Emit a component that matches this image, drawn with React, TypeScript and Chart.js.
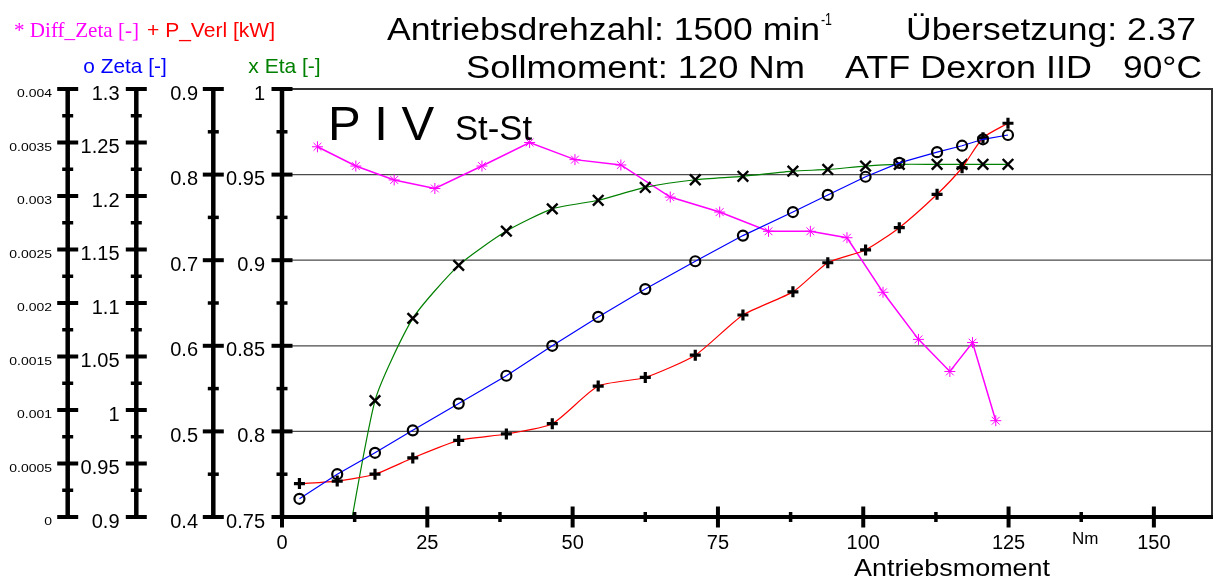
import React, { useEffect, useRef } from "react";
import { Chart, registerables } from "chart.js";

Chart.register(...registerables);

// ---------- data ----------
const torque = [3.0, 9.5, 16.0, 22.5, 30.4, 38.6, 46.5, 54.4, 62.5, 71.1, 79.3, 87.9, 93.9, 100.4, 106.2, 112.7, 117.0, 120.6, 124.9];
const zeta = [0.917, 0.940, 0.960, 0.981, 1.006, 1.032, 1.060, 1.087, 1.113, 1.139, 1.163, 1.185, 1.201, 1.218, 1.231, 1.241, 1.247, 1.253, 1.257];
const pVerl = [0.439, 0.442, 0.450, 0.469, 0.4895, 0.497, 0.509, 0.553, 0.563, 0.589, 0.636, 0.663, 0.697, 0.712, 0.738, 0.777, 0.808, 0.843, 0.860];
const etaTorque = [9.5, 16.0, 22.5, 30.4, 38.6, 46.5, 54.4, 62.5, 71.1, 79.3, 87.9, 93.9, 100.4, 106.2, 112.7, 117.0, 120.6, 124.9];
const eta = [0.70, 0.818, 0.866, 0.897, 0.917, 0.930, 0.935, 0.9425, 0.947, 0.949, 0.952, 0.953, 0.955, 0.956, 0.956, 0.956, 0.956, 0.956];
const diffTorque = [6.1, 12.7, 19.3, 26.3, 34.4, 42.6, 50.4, 58.3, 66.8, 75.3, 83.7, 90.9, 97.2, 103.4, 109.5, 114.9, 118.8, 122.8];
const diffZeta = [0.00346, 0.00328, 0.00315, 0.00307, 0.00328, 0.0035, 0.00334, 0.00329, 0.00299, 0.00285, 0.00267, 0.00267, 0.00261, 0.0021, 0.00166, 0.00136, 0.00163, 0.0009];

// ---------- ticks ----------
const xTicks = [0, 25, 50, 75, 100, 125, 150];
const xTickLabels = ["0", "25", "50", "75", "100", "125", "150"];
const xMinorTicks = [12.5, 37.5, 62.5, 87.5, 112.5, 137.5];
const xUnitAt = 137.5;
const etaTicks = [0.75, 0.8, 0.85, 0.9, 0.95, 1];
const etaLabels = ["0.75", "0.8", "0.85", "0.9", "0.95", "1"];
const pTicks = [0.4, 0.5, 0.6, 0.7, 0.8, 0.9];
const pLabels = ["0.4", "0.5", "0.6", "0.7", "0.8", "0.9"];
const zetaTicks = [0.9, 0.95, 1, 1.05, 1.1, 1.15, 1.2, 1.25, 1.3];
const zetaLabels = ["0.9", "0.95", "1", "1.05", "1.1", "1.15", "1.2", "1.25", "1.3"];
const diffTicks = [0, 0.0005, 0.001, 0.0015, 0.002, 0.0025, 0.003, 0.0035, 0.004];
const diffLabels = ["0", "0.0005", "0.001", "0.0015", "0.002", "0.0025", "0.003", "0.0035", "0.004"];
const gridTicks = [0.8, 0.85, 0.9, 0.95];

// ---------- texts ----------
const titleLine1a = "Antriebsdrehzahl: 1500 min";
const titleSup = "-1";
const titleLine1b = "Übersetzung: 2.37";
const titleLine2a = "Sollmoment: 120 Nm";
const titleLine2b = "ATF Dexron IID";
const titleLine2c = "90°C";
const legDiff = "* Diff_Zeta [-]";
const legP = "+ P_Verl [kW]";
const legZeta = "o Zeta [-]";
const legEta = "x Eta [-]";
const xTitle = "Antriebsmoment";
const xUnit = "Nm";
const tagBig = "P I V";
const tagSmall = "St-St";

const SANS = "'Liberation Sans', Arial, Helvetica, sans-serif";
const SERIF = "'Liberation Serif', 'Times New Roman', serif";

function fitText(ctx: CanvasRenderingContext2D, text: string, left: number, right: number, baseline: number, font: string, color: string) {
  ctx.save();
  ctx.font = font;
  ctx.fillStyle = color;
  ctx.textAlign = "left";
  ctx.textBaseline = "alphabetic";
  const w = ctx.measureText(text).width;
  const sx = (right - left) / w;
  ctx.translate(left, baseline);
  ctx.scale(sx, 1);
  ctx.fillText(text, 0, 0);
  ctx.restore();
}

function scaledText(ctx: CanvasRenderingContext2D, text: string, x: number, y: number, font: string, align: CanvasTextAlign, sx: number, color = "#000") {
  ctx.save();
  ctx.font = font;
  ctx.fillStyle = color;
  ctx.textAlign = align;
  ctx.textBaseline = "middle";
  ctx.translate(x, y);
  ctx.scale(sx, 1);
  ctx.fillText(text, 0, 0);
  ctx.restore();
}

function seg(ctx: CanvasRenderingContext2D, x1: number, y1: number, x2: number, y2: number) {
  ctx.beginPath();
  ctx.moveTo(x1, y1);
  ctx.lineTo(x2, y2);
  ctx.stroke();
}

const decor = {
  id: "decor",
  beforeDatasetsDraw(chart: any) {
    const { ctx, chartArea: a, scales } = chart;
    ctx.save();
    ctx.strokeStyle = "#4a4a4a";
    ctx.lineWidth = 1.3;
    for (const v of gridTicks) {
      const y = scales.yEta.getPixelForValue(v);
      seg(ctx, a.left, y, a.right, y);
    }
    ctx.strokeStyle = "#333";
    ctx.lineWidth = 2;
    ctx.beginPath();
    ctx.moveTo(a.left, a.top);
    ctx.lineTo(a.right, a.top);
    ctx.lineTo(a.right, a.bottom);
    ctx.stroke();
    ctx.restore();
  },
  afterDatasetsDraw(chart: any) {
    const { ctx, chartArea: a, scales } = chart;
    ctx.save();
    ctx.strokeStyle = "#000";
    ctx.lineCap = "butt";

    const axes = [
      { id: "yDiff", x: 67.7, ticks: diffTicks, labels: diffLabels, right: 52, font: `11px ${SANS}`, sx: 1.27 },
      { id: "yZeta", x: 136.3, ticks: zetaTicks, labels: zetaLabels, right: 119.5, font: `20px ${SANS}`, sx: 1 },
      { id: "yP", x: 213.3, ticks: pTicks, labels: pLabels, right: 198, font: `20px ${SANS}`, sx: 1 },
      { id: "yEta", x: a.left, ticks: etaTicks, labels: etaLabels, right: 265, font: `20px ${SANS}`, sx: 1 },
    ];
    for (const ax of axes) {
      const sc = scales[ax.id];
      ctx.lineWidth = 4.5;
      seg(ctx, ax.x, a.top - 2, ax.x, a.bottom + 2);
      ctx.lineWidth = 4;
      ax.ticks.forEach((v, i) => {
        const y = sc.getPixelForValue(v);
        seg(ctx, ax.x - 10.5, y, ax.x + 10.5, y);
        scaledText(ctx, ax.labels[i], ax.right, y + 5, ax.font, "right", ax.sx);
        if (i < ax.ticks.length - 1) {
          const ym = sc.getPixelForValue((v + ax.ticks[i + 1]) / 2);
          ctx.lineWidth = 3.5;
          seg(ctx, ax.x - 5.5, ym, ax.x + 5.5, ym);
          ctx.lineWidth = 4;
        }
      });
    }

    // x axis
    const xs = scales.x;
    ctx.lineWidth = 4;
    seg(ctx, a.left - 2, a.bottom, a.right + 1, a.bottom);
    xTicks.forEach((v, i) => {
      const x = xs.getPixelForValue(v);
      ctx.lineWidth = 4;
      seg(ctx, x, a.bottom - 10.5, x, a.bottom + 10.5);
      ctx.save();
      ctx.font = `20px ${SANS}`;
      ctx.fillStyle = "#000";
      ctx.textAlign = "center";
      ctx.textBaseline = "alphabetic";
      ctx.fillText(xTickLabels[i], x, 548.5);
      ctx.restore();
    });
    ctx.lineWidth = 3.5;
    for (const v of xMinorTicks) {
      const x = xs.getPixelForValue(v);
      seg(ctx, x, a.bottom - 5, x, a.bottom + 5);
    }
    ctx.save();
    ctx.font = `17px ${SANS}`;
    ctx.fillStyle = "#000";
    ctx.textAlign = "center";
    ctx.textBaseline = "alphabetic";
    ctx.fillText(xUnit, xs.getPixelForValue(xUnitAt) + 4, 544);
    ctx.restore();
    fitText(ctx, xTitle, 854, 1050, 576, `24px ${SANS}`, "#000");

    // titles
    fitText(ctx, titleLine1a, 387, 820, 39.5, `31px ${SANS}`, "#000");
    fitText(ctx, titleSup, 821, 832, 25, `16px ${SANS}`, "#000");
    fitText(ctx, titleLine1b, 906, 1196, 39.5, `31px ${SANS}`, "#000");
    fitText(ctx, titleLine2a, 466, 805, 77.5, `31px ${SANS}`, "#000");
    fitText(ctx, titleLine2b, 845, 1092, 77.5, `31px ${SANS}`, "#000");
    fitText(ctx, titleLine2c, 1123, 1202, 77.5, `31px ${SANS}`, "#000");

    // legend texts
    fitText(ctx, legDiff, 14, 139, 36.5, `21px ${SERIF}`, "#ff00ff");
    fitText(ctx, legP, 147, 275, 36.5, `21px ${SANS}`, "#ff0000");
    fitText(ctx, legZeta, 83.3, 166.7, 72.7, `21px ${SANS}`, "#0000ff");
    fitText(ctx, legEta, 248.3, 320.7, 72.7, `21px ${SANS}`, "#008000");

    // tag in plot
    ctx.save();
    ctx.fillStyle = "#000";
    ctx.textBaseline = "alphabetic";
    ctx.textAlign = "left";
    ctx.font = `49px ${SANS}`;
    ctx.fillText(tagBig, 328, 140);
    ctx.restore();
    fitText(ctx, tagSmall, 455, 532, 140, `35px ${SANS}`, "#000");

    ctx.restore();
  },
};

export default function App() {
  const ref = useRef<HTMLCanvasElement | null>(null);
  useEffect(() => {
    if (!ref.current) return;
    const pts = (xs: number[], ys: number[]) => xs.map((x, i) => ({ x, y: ys[i] }));
    const chart = new Chart(ref.current, {
      type: "line",
      data: {
        datasets: [
          {
            label: "Zeta",
            data: pts(torque, zeta),
            yAxisID: "yZeta",
            borderColor: "#0000ff",
            borderWidth: 1.2,
            tension: 0,
            pointStyle: "circle",
            pointRadius: 5,
            pointBorderColor: "#000",
            pointBackgroundColor: "rgba(0,0,0,0)",
            pointBorderWidth: 2.2,
            clip: 0,
          },
          {
            label: "P_Verl",
            data: pts(torque, pVerl),
            yAxisID: "yP",
            borderColor: "#ff0000",
            borderWidth: 1.2,
            tension: 0.2,
            pointStyle: "cross",
            pointRadius: 5.5,
            pointBorderColor: "#000",
            pointBorderWidth: 3.2,
            clip: 0,
          },
          {
            label: "Eta",
            data: pts(etaTorque, eta),
            yAxisID: "yEta",
            borderColor: "#008000",
            borderWidth: 1.2,
            tension: 0.2,
            capBezierPoints: false,
            pointStyle: "crossRot",
            pointRadius: 7.5,
            pointBorderColor: "#000",
            pointBorderWidth: 2.4,
            clip: 0,
          },
          {
            label: "Diff_Zeta",
            data: pts(diffTorque, diffZeta),
            yAxisID: "yDiff",
            borderColor: "#ff00ff",
            borderWidth: 1.5,
            tension: 0,
            pointStyle: "star",
            pointRadius: 5.5,
            pointBorderColor: "#ff00ff",
            pointBorderWidth: 1,
            clip: 0,
          },
        ] as any,
      },
      options: {
        animation: false,
        responsive: false,
        events: [],
        layout: { autoPadding: false, padding: { left: 282, right: 2, top: 89, bottom: 64 } },
        plugins: { legend: { display: false }, tooltip: { enabled: false }, title: { display: false } },
        scales: {
          x: { type: "linear", min: 0, max: 160, display: false },
          yEta: { type: "linear", position: "left", min: 0.75, max: 1, display: false },
          yP: { type: "linear", position: "left", min: 0.4, max: 0.9, display: false },
          yZeta: { type: "linear", position: "left", min: 0.9, max: 1.3, display: false },
          yDiff: { type: "linear", position: "left", min: 0, max: 0.004, display: false },
        },
      } as any,
      plugins: [decor],
    });
    return () => chart.destroy();
  }, []);
  return (
    <div style={{ position: "fixed", left: 0, top: 0, width: 1214, height: 581, background: "#fff" }}>
      <canvas ref={ref} width={1214} height={581} style={{ display: "block", width: 1214, height: 581 }} />
    </div>
  );
}
